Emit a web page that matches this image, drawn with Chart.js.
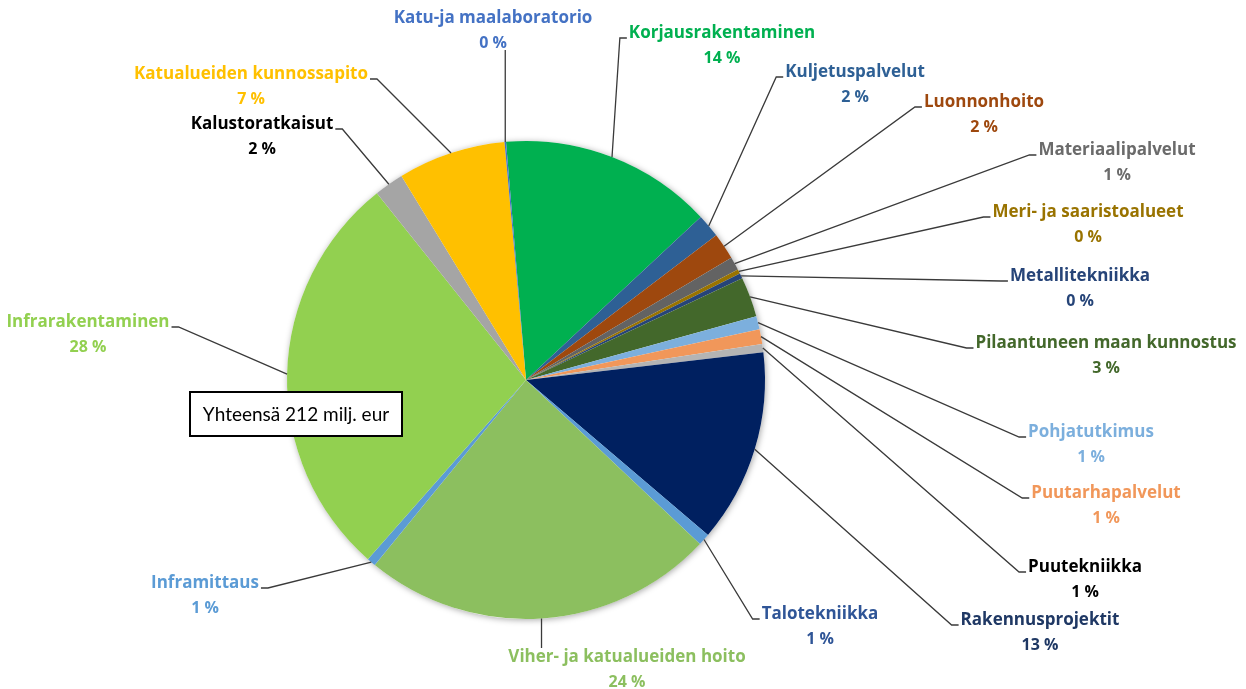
<!DOCTYPE html>
<html>
<head>
<meta charset="utf-8">
<script src="https://cdn.jsdelivr.net/npm/chart.js@4"></script>
<style>
html,body{margin:0;padding:0;background:#fff;}
#wrap{position:relative;width:1246px;height:689px;}
</style>
</head>
<body>
<div id="wrap"><canvas id="c"></canvas></div>
<script>
const categories = ['Korjausrakentaminen','Kuljetuspalvelut','Luonnonhoito','Materiaalipalvelut','Meri- ja saaristoalueet','Metallitekniikka','Pilaantuneen maan kunnostus','Pohjatutkimus','Puutarhapalvelut','Puutekniikka','Rakennusprojektit','Talotekniikka','Viher- ja katualueiden hoito','Inframittaus','Infrarakentaminen','Kalustoratkaisut','Katualueiden kunnossapito','Katu-ja maalaboratorio'];
const shares = [14.4,1.6,1.8,0.9,0.3,0.35,2.7,0.9,1.0,0.55,13.1,0.8,23.9,0.6,27.8,2.0,7.3,0.1];
const totalText = 'Yhteensä 212 milj. eur';

const sliceColors = ['#00B050','#2E6095','#9E480E','#636363','#997300','#264478','#43682B','#7CAFDD','#F1975A','#B4B4B4','#002060','#5B9BD5','#8CBF5F','#5B9BD5','#92D050','#A5A5A5','#FFC000','#4472C4'];
const labelColors = ['#00B050','#2E6095','#9E480E','#6B6B6B','#997300','#264478','#43682B','#7CAFDD','#F1975A','#000000','#1F3864','#2F5597','#8CBF5F','#5B9BD5','#92D050','#000000','#FFC000','#4472C4'];
// label placement (name centre x, y) and side where the leader meets the label
const labelX = [722,855,984,1117,1088,1080,1106,1091,1106,1085,1040,820,627,205,88,262,251,493];
const labelY = [33,72,102,150,212,276,343,432,493,567,620,614,657,583,322,124,74,18];
const labelSide = ['L','L','L','L','L','L','L','L','L','L','L','L','B','R','R','R','R','T'];

const LABEL_FONT = 'bold 17px "Open Sans", Lato, sans-serif';
const PCT_FONT = 'bold 16px "Open Sans", Lato, sans-serif';
const BOX_FONT = '19px Lato, "Open Sans", sans-serif';

const labelPlugin = {
  id: 'outLabels',
  beforeDatasetsDraw(chart) {
    const arc = chart.getDatasetMeta(0).data[0];
    if (!arc) return;
    const p = arc.getProps(['x','y','outerRadius'], true);
    const ctx = chart.ctx;
    ctx.save();
    ctx.shadowColor = 'rgba(0,0,0,0.35)';
    ctx.shadowBlur = 6;
    ctx.shadowOffsetX = 1;
    ctx.shadowOffsetY = 1;
    ctx.fillStyle = '#ffffff';
    ctx.beginPath();
    ctx.arc(p.x, p.y, p.outerRadius, 0, Math.PI * 2);
    ctx.fill();
    ctx.restore();
  },
  afterDatasetsDraw(chart) {
    const ctx = chart.ctx;
    const meta = chart.getDatasetMeta(0);
    const data = chart.data.datasets[0].data;
    const total = data.reduce((a, b) => a + b, 0);
    ctx.save();
    meta.data.forEach((el, i) => {
      const p = el.getProps(['x','y','startAngle','endAngle','outerRadius'], true);
      const mid = (p.startAngle + p.endAngle) / 2;
      const sx = p.x + Math.cos(mid) * p.outerRadius;
      const sy = p.y + Math.sin(mid) * p.outerRadius;
      const name = chart.data.labels[i];
      const pct = Math.round(data[i] / total * 100) + ' %';
      ctx.font = LABEL_FONT;
      const w = ctx.measureText(name).width;
      const lx = labelX[i], ly = labelY[i];
      ctx.strokeStyle = '#3a3a3a';
      ctx.lineWidth = 1.3;
      ctx.beginPath();
      ctx.moveTo(sx, sy);
      const side = labelSide[i];
      if (side === 'L') {
        const ax = lx - w / 2 - 2, ay = ly + 5;
        ctx.lineTo(ax - 7, ay);
        ctx.lineTo(ax, ay);
      } else if (side === 'R') {
        const ax = lx + w / 2 + 2, ay = ly + 5;
        ctx.lineTo(ax + 7, ay);
        ctx.lineTo(ax, ay);
      } else if (side === 'T') {
        ctx.lineTo(sx, ly + 32);
      } else {
        ctx.lineTo(sx, ly - 9);
      }
      ctx.stroke();
      ctx.fillStyle = labelColors[i];
      ctx.textAlign = 'center';
      ctx.textBaseline = 'middle';
      ctx.fillText(name, lx, ly);
      ctx.font = PCT_FONT;
      ctx.fillText(pct, lx, ly + 25);
    });
    const bx = 190, by = 392, bw = 212, bh = 44;
    ctx.fillStyle = '#ffffff';
    ctx.fillRect(bx, by, bw, bh);
    ctx.strokeStyle = '#000000';
    ctx.lineWidth = 2;
    ctx.strokeRect(bx, by, bw, bh);
    ctx.fillStyle = '#000000';
    ctx.font = BOX_FONT;
    ctx.textAlign = 'center';
    ctx.textBaseline = 'middle';
    ctx.fillText(totalText, bx + bw / 2, by + bh / 2 + 1);
    ctx.restore();
  }
};

new Chart(document.getElementById('c'), {
  type: 'pie',
  data: {
    labels: categories,
    datasets: [{
      data: shares,
      backgroundColor: sliceColors,
      borderWidth: 0
    }]
  },
  options: {
    responsive: true,
    maintainAspectRatio: false,
    animation: false,
    rotation: -4.8,
    layout: { padding: { left: 287, right: 481, top: 141, bottom: 70 } },
    plugins: {
      legend: { display: false },
      tooltip: { enabled: false }
    }
  },
  plugins: [labelPlugin]
});
</script>
</body>
</html>
